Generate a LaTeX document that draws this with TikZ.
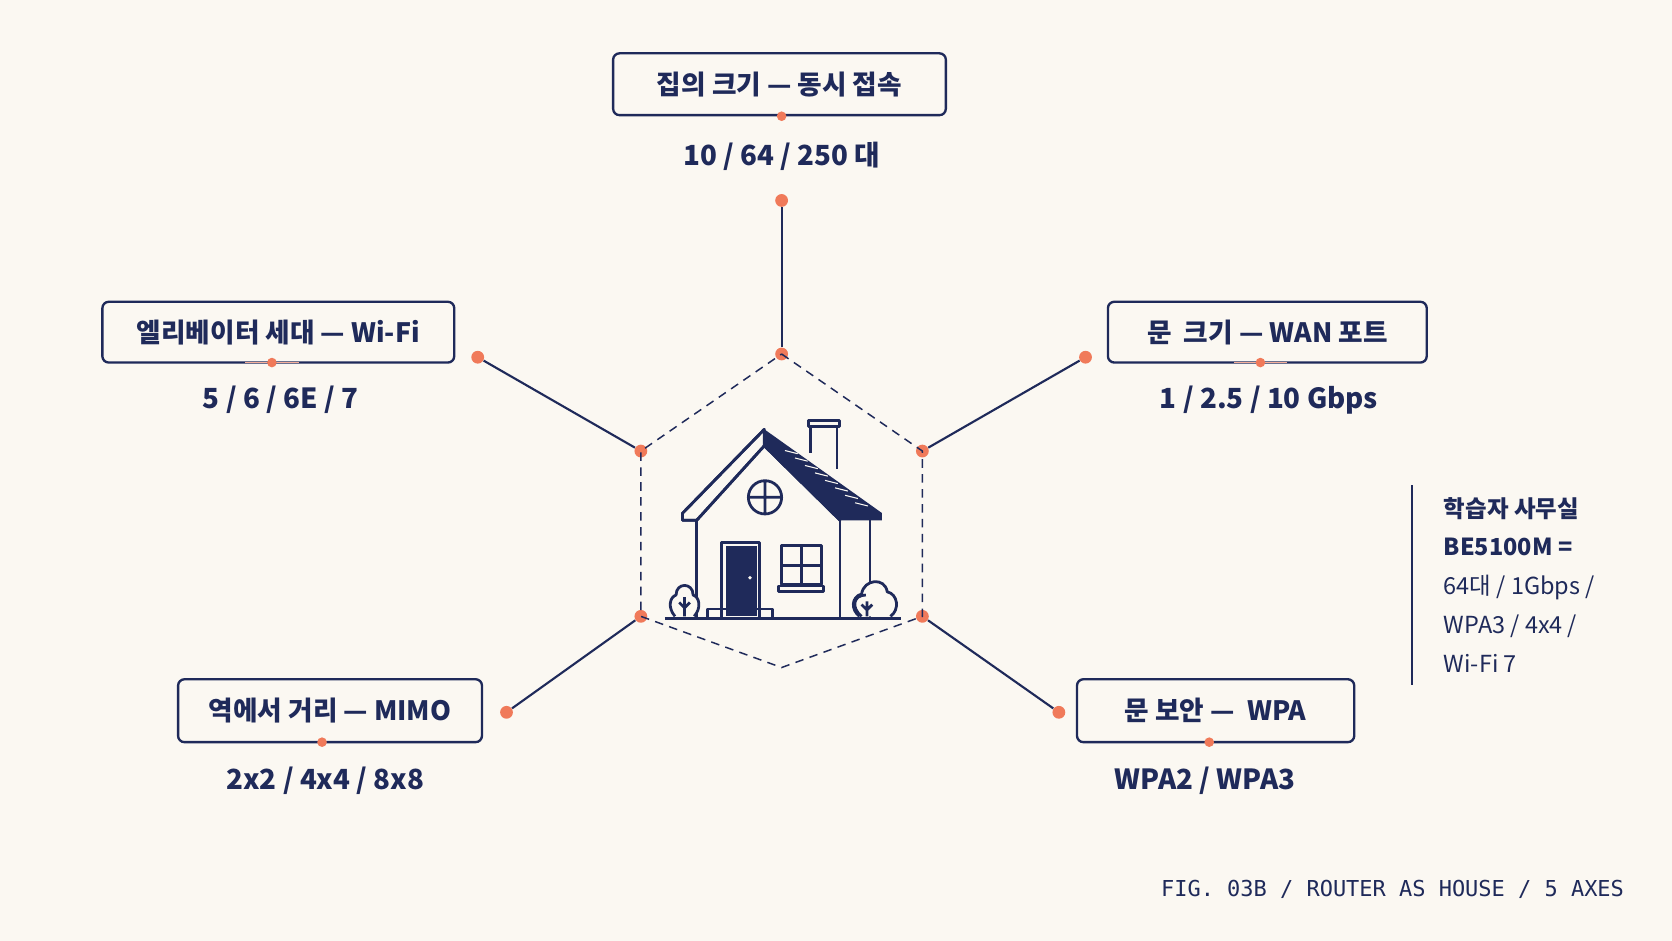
\documentclass[tikz,border=0pt]{standalone}
\usepackage{fontspec}
\usetikzlibrary{calc}
\setmainfont{Noto Sans CJK KR}
\newfontfamily\monof{DejaVu Sans Mono}
\definecolor{navy}{HTML}{1F2A5A}
\definecolor{coral}{HTML}{F07A5A}
\definecolor{bg}{HTML}{FBF8F2}
\begin{document}
\begin{tikzpicture}[x=0.5pt,y=-0.5pt,
  lbox/.style={draw=navy,line width=1.1pt,rounded corners=3pt,fill=bg,text=navy,font=\fontsize{12.5}{14}\selectfont\bfseries,inner sep=0pt},
  val/.style={text=navy,font=\fontsize{13}{15}\selectfont\bfseries},
  dotc/.style={circle,fill=coral,inner sep=0pt,minimum size=6pt},
  sdot/.style={circle,fill=coral,inner sep=0pt,minimum size=4.5pt},
  spoke/.style={draw=navy,line width=1pt},
  hl/.style={draw=navy,line width=1.3pt,line join=round},
]
\fill[bg] (0,0) rectangle (1568,882);
\useasboundingbox (0,0) rectangle (1568,882);
% boxes
\node[lbox,minimum width=156pt,minimum height=29pt] (b1) at (731,79) {집의 크기 — 동시 접속};
\node[lbox,minimum width=165pt,minimum height=28.5pt] (b2) at (261,311.5) {엘리베이터 세대 — Wi-Fi};
\node[lbox,minimum width=149.5pt,minimum height=28.5pt] (b3) at (1188.5,311.5) {문\ \ 크기 — WAN 포트};
\node[lbox,minimum width=142.5pt,minimum height=29.5pt] (b4) at (309.5,666.5) {역에서 거리 — MIMO};
\node[lbox,minimum width=130pt,minimum height=29.5pt] (b5) at (1140,666.5) {문 보안 —\ \ WPA};
\draw[coral!60,line width=0.8pt] (230,340) -- (280,340) (1157,340)--(1207,340);
\node[sdot] (s1) at (733,109) {};
\node[sdot] (s2) at (255,340) {};
\node[sdot] (s3) at (1182,340) {};
\node[sdot] (s4) at (302,696) {};
\node[sdot] (s5) at (1134,696) {};
\node[val] (v1) at (733,147) {10 / 64 / 250 대};
\node[val] (v2) at (263,375) {5 / 6 / 6E / 7};
\node[val] (v3) at (1190,375) {1 / 2.5 / 10 Gbps};
\node[val] (v4) at (305,732) {2x2 / 4x4 / 8x8};
\node[val] (v5) at (1130,732) {WPA2 / WPA3};
% hexagon
\coordinate (hb) at (733,626);
\node[dotc] (h1) at (733,332) {};
\node[dotc] (h2) at (865,423) {};
\node[dotc] (h3) at (865,578) {};
\node[dotc] (h5) at (601,578) {};
\node[dotc] (h6) at (601,423) {};
\draw[navy,line width=0.7pt,dash pattern=on 4pt off 3pt] (h1.center)--(h2.center)--(h3.center)--(hb)--(h5.center)--(h6.center)--cycle;
% spokes
\node[dotc] (e1) at (733,188) {};
\node[dotc] (e2) at (448,335) {};
\node[dotc] (e3) at (1018,335) {};
\node[dotc] (e4) at (475,668) {};
\node[dotc] (e5) at (993,668) {};
\draw[spoke] (e1)--(h1); \draw[spoke] (e2)--(h6); \draw[spoke] (e3)--(h2);
\draw[spoke] (e4)--(h5); \draw[spoke] (e5)--(h3);
% house
\fill[bg] (760,400) rectangle (785,430);
\draw[hl] (760,400)--(760,425) (785,400)--(785,440);
\draw[hl] (758,394.5) rectangle (787,400);
\fill[navy] (716.8,402.6)--(826.9,481)--(826.9,487.9)--(787.8,487.9)--(716.8,418)--cycle;
\foreach \i in {0.15,0.25,...,0.9}{\draw[bg,line width=0.5pt] ($(722,412)!\i!(816,482)$) -- ++(12,3);}
\draw[hl,fill=bg] (716.8,402.6)--(640,481.4)--(640,487.9)--(653.4,487.9)--(716.8,418)--(787.8,487.9)--(716.8,418)--cycle;
\draw[hl] (716.8,402.6)--(640,481.4)--(640,487.9)--(653.4,487.9);
\draw[hl] (653.4,487.9)--(716.8,418)--(787.8,487.9);
\draw[hl] (653.4,487.9)--(653.4,580) (787.8,487.9)--(787.8,580) (815.9,487.9)--(815.9,580);
\draw[hl] (717.4,466.4) circle (15.6) (701.8,466.4)--(733,466.4) (717.4,450.8)--(717.4,482);
\draw[hl] (676.8,580)--(676.8,508.5)--(712.2,508.5)--(712.2,580);
\fill[navy] (680.9,512.5) rectangle (709.6,578);
\fill[bg] (703.4,541.8) circle (1.8);
\draw[hl] (733.1,511.9) rectangle (770.6,548.4) (751.8,511.9)--(751.8,548.4) (733.1,530)--(770.6,530);
\draw[hl] (730,549.5) rectangle (772,554.9);
\draw[hl] (663.6,580)--(663.6,571.2)--(724.6,571.2)--(724.6,580);
\draw[hl] (623.6,580)--(845.4,580);
\draw[hl,fill=bg] (633,578) .. controls (626,570) and (628,560) .. (634,558) .. controls (634,546) and (650,546) .. (650,558) .. controls (656,560) and (658,570) .. (651,578);
\draw[hl] (642,578)--(642,560) (642,570)--(637,565) (642,570)--(647,565);
\draw[hl,fill=bg] (806,578) .. controls (798,572) and (798,560) .. (808,557) .. controls (810,543) and (830,541) .. (832,555) .. controls (842,557) and (844,572) .. (835,578);
\draw[hl] (808,578) .. controls (798,570) and (800,558) .. (812,558);
\draw[hl] (813,578)--(813,564) (813,572)--(808,567) (813,572)--(818,567);
% side note
\draw[navy,line width=1pt] (1324,455)--(1324,642);
\node[anchor=west,text=navy,font=\fontsize{11}{13}\selectfont\bfseries] (n1) at (1347,477) {학습자 사무실};
\node[anchor=west,text=navy,font=\fontsize{11}{13}\selectfont\bfseries] (n2) at (1347,513) {BE5100M =};
\node[anchor=west,text=navy,font=\fontsize{11}{13}\selectfont] (n3) at (1347,551) {64대 / 1Gbps /};
\node[anchor=west,text=navy,font=\fontsize{11}{13}\selectfont] (n4) at (1347,587) {WPA3 / 4x4 /};
\node[anchor=west,text=navy,font=\fontsize{11}{13}\selectfont] (n5) at (1347,622) {Wi-Fi 7};
\node[anchor=east,text=navy,font=\monof\fontsize{10.3}{12}\selectfont] (ft) at (1530,834) {FIG. 03B / ROUTER AS HOUSE / 5 AXES};
\end{tikzpicture}
\end{document}
